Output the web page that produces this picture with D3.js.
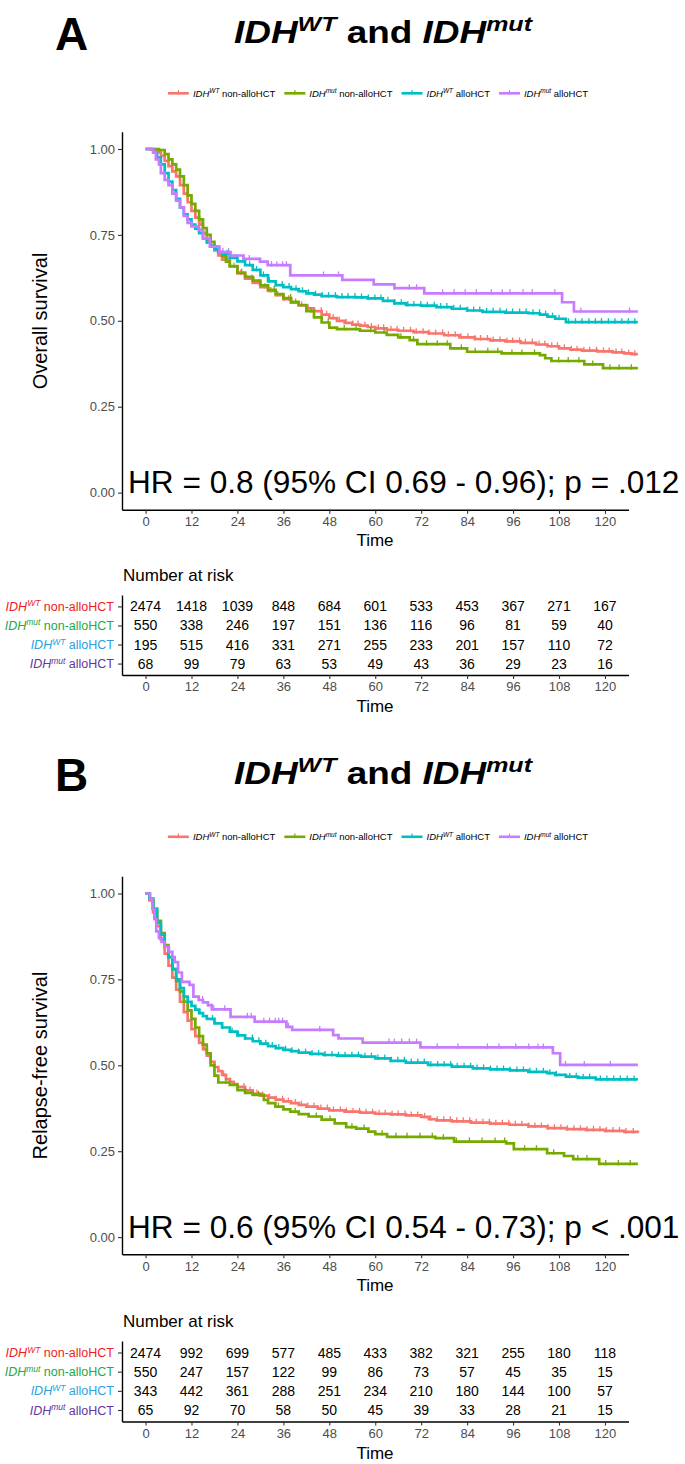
<!DOCTYPE html>
<html><head><meta charset="utf-8">
<script src="https://cdn.jsdelivr.net/npm/d3@7"></script>
<style>
body{margin:0;background:#fff}
svg{display:block;font-family:"Liberation Sans",Arial,Helvetica,sans-serif}
</style>
</head><body>
<svg id="chart" width="685" height="1464"></svg>
<script>
// ---------- DATA ----------
const groupSup = ["WT", "mut", "WT", "mut"];
const groupSuffix = [" non-alloHCT", " non-alloHCT", " alloHCT", " alloHCT"];
const curveColors = ["#F8766D", "#76AA00", "#00BFC4", "#C77CFF"];
const tableColors = ["#EE1C25", "#25A846", "#2AA2E0", "#6536A0"];
const timeTicks = [0, 12, 24, 36, 48, 60, 72, 84, 96, 108, 120];
const survTicks = [0, 0.25, 0.5, 0.75, 1];

// Panel A: overall survival, [month, survival]
const osWTnon = [[0,1],[1.5,0.998],[3,0.99],[4,0.98],[5,0.965],[6,0.95],[7,0.935],[8,0.92],[9,0.895],[10,0.87],[11,0.845],[12,0.82],[13,0.80],[14,0.78],[15,0.755],[16,0.735],[17,0.72],[18,0.705],[19,0.69],[20,0.678],[22,0.658],[24,0.638],[26,0.623],[28,0.61],[30,0.598],[32,0.587],[34,0.575],[36,0.563],[38,0.553],[40,0.545],[42,0.536],[44,0.528],[46,0.518],[48,0.508],[50,0.50],[52,0.494],[54,0.489],[56,0.486],[58,0.482],[60,0.478],[63,0.474],[66,0.471],[70,0.467],[74,0.463],[78,0.458],[82,0.452],[86,0.447],[90,0.443],[94,0.44],[98,0.436],[102,0.431],[105,0.426],[108,0.42],[111,0.416],[114,0.413],[118,0.411],[122,0.408],[125,0.405],[127,0.403],[128.6,0.403]];
const osMutNon = [[0,1],[3.5,0.997],[5,0.985],[6,0.97],[7,0.955],[8,0.94],[9,0.92],[10,0.895],[11,0.865],[12,0.84],[13,0.82],[14,0.795],[15,0.77],[16,0.75],[17,0.73],[18,0.715],[19,0.70],[20,0.688],[21,0.672],[22,0.659],[24,0.64],[26,0.628],[28,0.617],[30,0.603],[32,0.59],[34,0.578],[36,0.566],[38,0.555],[40,0.546],[42,0.528],[44,0.51],[46,0.495],[48,0.48],[50,0.476],[56,0.471],[60,0.466],[63,0.459],[66,0.452],[69,0.444],[71,0.432],[79.6,0.42],[84,0.41],[93,0.405],[103,0.40],[104.4,0.391],[106,0.383],[114.6,0.373],[119.5,0.362],[128.6,0.362]];
const osWTallo = [[0,1],[2,0.99],[3,0.975],[4,0.955],[5,0.93],[6,0.905],[7,0.88],[8,0.855],[9,0.83],[10,0.81],[11,0.795],[12,0.78],[13,0.768],[14,0.755],[15,0.74],[16,0.728],[17,0.718],[18,0.708],[19,0.70],[20,0.695],[22,0.683],[24,0.673],[26,0.662],[28,0.648],[30,0.632],[32,0.615],[34,0.604],[36,0.598],[38,0.592],[40,0.586],[42,0.58],[44,0.576],[46,0.572],[50,0.569],[55,0.568],[58,0.565],[62,0.558],[65,0.551],[68,0.546],[72,0.544],[76,0.54],[80,0.535],[84,0.53],[88,0.526],[94,0.524],[100,0.522],[103,0.518],[105,0.512],[107,0.506],[109.8,0.496],[128.6,0.496]];
const osMutAllo = [[0,1],[2,0.99],[2.7,0.97],[3.5,0.955],[4,0.93],[5,0.91],[6,0.895],[7,0.87],[8,0.85],[9,0.83],[10,0.805],[11,0.785],[12,0.775],[13.9,0.764],[15,0.74],[16.8,0.716],[19.3,0.70],[22.2,0.69],[25.6,0.68],[29.9,0.672],[31.9,0.662],[37.8,0.632],[51.4,0.619],[59.6,0.606],[65,0.595],[72.8,0.58],[108.8,0.554],[111.9,0.527],[128.6,0.527]];

const osCensWTnon = [14.5,17.2,19.8,21.5,23.1,24.9,26.4,27.8,29.6,31.2,32.7,34.5,36.1,37.4,39.2,40.8,42.5,44.1,45.9,47.3,49.0,50.6,52.4,54.1,55.5,57.3,59.0,60.8,62.2,64.1,65.7,67.4,69.2,70.7,72.5,74.0,75.8,77.6,79.1,80.9,82.4,84.2,86.0,87.5,89.3,90.8,92.6,94.4,95.9,97.7,99.2,101.0,102.8,104.3,106.1,107.6,109.4,111.2,112.7,114.5,116.0,117.8,119.6,121.1,122.9,124.4,126.2,127.8];
const osCensMutNon = [20.5,25.1,28.3,33.6,37.9,43.2,47.7,51.9,55.0,58.8,62.3,66.7,70.0,73.4,76.2,78.8,82.5,86.1,89.4,92.0,95.7,98.3,101.6,107.9,110.4,113.2,116.8,121.3,123.7,126.9];
const osCensWTallo = [16.0,18.9,21.3,23.8,25.5,27.2,29.0,30.8,32.3,34.0,35.7,37.5,39.3,41.0,42.6,44.4,46.1,47.8,49.6,51.3,52.9,54.7,56.4,58.2,59.9,61.5,63.3,65.0,66.8,68.5,70.1,71.9,73.6,75.4,77.1,78.7,80.5,82.2,84.0,85.7,87.3,89.1,90.8,92.6,94.3,95.9,97.7,99.4,101.2,102.9,104.5,106.3,108.0,110.5,112.3,114.0,115.8,117.5,119.1,120.9,122.6,124.4,126.1,127.8];
const osCensMutAllo = [20.2,21.7,27.1,30.0,32.9,34.3,35.8,36.8,46.5,50.4,65.0,68.9,70.8,77.6,80.6,83.5,86.4,90.3,93.2,95.2,98.6,101.0,106.9,113.7,126.4];

// Panel B: relapse-free survival
const rfsWTnon = [[0,1],[1,0.98],[2,0.945],[3,0.905],[4,0.865],[5,0.825],[6,0.79],[7,0.755],[8,0.72],[9,0.685],[10,0.655],[11,0.63],[12,0.605],[13,0.585],[14,0.565],[15,0.547],[16,0.528],[17,0.51],[18,0.495],[19,0.483],[20,0.472],[21,0.46],[22,0.452],[23,0.445],[24,0.437],[26,0.427],[28,0.418],[30,0.412],[32,0.406],[34,0.40],[36,0.395],[38,0.39],[40,0.385],[42,0.38],[45,0.374],[48,0.369],[52,0.365],[56,0.362],[60,0.359],[64,0.357],[68,0.354],[72,0.35],[74,0.343],[76,0.34],[80,0.337],[85,0.333],[90,0.33],[95,0.327],[100,0.322],[105,0.317],[110,0.314],[115,0.312],[120,0.309],[125,0.306],[128.6,0.304]];
const rfsMutNon = [[0,1],[1,0.985],[2,0.955],[3,0.92],[4,0.885],[5,0.85],[6,0.815],[7,0.78],[8,0.745],[9,0.715],[10,0.685],[11,0.66],[12,0.635],[13,0.61],[14,0.585],[15,0.56],[16,0.535],[17,0.50],[18,0.47],[19,0.45],[22,0.443],[24,0.428],[26,0.42],[28,0.414],[30.9,0.399],[32,0.39],[33.9,0.38],[36,0.372],[37.8,0.365],[40,0.358],[42.6,0.351],[46,0.342],[49.4,0.331],[52.4,0.32],[55,0.316],[58.2,0.307],[60,0.30],[63.1,0.292],[75.7,0.288],[80.6,0.278],[94.2,0.273],[96.2,0.256],[104.9,0.244],[109.3,0.236],[111.7,0.227],[118.5,0.213],[128.6,0.213]];
const rfsWTallo = [[0,1],[1,0.985],[2,0.955],[3,0.915],[4,0.88],[5,0.845],[6,0.815],[7,0.78],[8,0.75],[9,0.725],[10,0.70],[11,0.685],[12,0.673],[13,0.662],[14,0.652],[15,0.643],[16,0.635],[18,0.622],[20,0.61],[22,0.598],[24,0.587],[26,0.578],[28,0.57],[30,0.563],[32,0.556],[34,0.55],[36,0.545],[38,0.541],[40,0.537],[43,0.533],[46.5,0.53],[50,0.528],[56.3,0.525],[60,0.52],[64,0.513],[68,0.508],[73.8,0.501],[80,0.496],[85.5,0.491],[90,0.488],[95.2,0.485],[100,0.481],[104.9,0.477],[107,0.472],[109.8,0.467],[113,0.464],[117.6,0.459],[128.6,0.459]];
const rfsMutAllo = [[0,1],[1.2,0.985],[1.8,0.955],[2.3,0.925],[2.8,0.89],[3.5,0.87],[4.2,0.859],[5,0.845],[6.1,0.83],[7,0.815],[7.6,0.80],[8.5,0.77],[9.5,0.743],[11.5,0.734],[12.5,0.70],[13.9,0.69],[15,0.683],[16.3,0.675],[17.3,0.663],[22.2,0.641],[28.5,0.627],[36.8,0.612],[38.3,0.603],[49,0.588],[50.4,0.578],[56.7,0.566],[71.8,0.552],[106.4,0.535],[108.3,0.501],[128.6,0.501]];

const rfsCensWTnon = [15.3,18.1,20.4,22.2,24.0,25.7,27.3,29.1,30.6,32.4,34.0,35.8,37.3,39.1,40.7,42.4,44.0,45.8,47.5,49.1,50.9,52.5,54.2,55.9,57.6,59.3,61.0,62.6,64.4,66.0,67.8,69.4,71.1,72.9,74.5,76.2,77.9,79.6,81.3,83.0,84.7,86.4,88.1,89.8,91.5,93.2,94.9,96.6,98.3,100.0,101.7,103.4,105.1,106.8,108.5,110.2,111.9,113.6,115.3,117.0,118.7,120.4,122.1,123.8,125.5,127.4];
const rfsCensMutNon = [21.0,26.2,29.5,34.7,39.1,44.6,48.2,53.9,57.1,61.8,65.4,68.3,71.7,74.9,77.8,81.2,84.6,87.9,91.3,93.8,99.0,102.1,106.6,112.9,115.3,120.2,123.5,126.6];
const rfsCensWTallo = [14.2,17.5,20.1,22.6,24.3,26.1,27.9,29.6,31.4,33.1,34.8,36.6,38.2,40.0,41.8,43.5,45.2,46.9,48.7,50.4,52.1,53.9,55.6,57.3,59.0,60.7,62.5,64.2,65.9,67.6,69.4,71.1,72.8,74.5,76.3,78.0,79.7,81.4,83.2,84.9,86.6,88.3,90.1,91.8,93.5,95.2,97.0,98.7,100.4,102.1,103.9,105.6,107.3,110.8,112.5,114.3,116.0,118.8,120.5,122.3,124.0,125.8,127.6];
const rfsCensMutAllo = [14.9,16.3,17.8,20.7,26.6,27.6,30.9,32.4,33.9,34.8,35.8,37.3,45.5,63.6,65.0,66.9,68.9,70.8,76.2,81.6,89.3,92.3,96.7,100.1,102.5,103.9,109.7,114.6,121.4];

// Number at risk
const riskA_WTnon = [2474,1418,1039,848,684,601,533,453,367,271,167];
const riskA_mutNon = [550,338,246,197,151,136,116,96,81,59,40];
const riskA_WTallo = [195,515,416,331,271,255,233,201,157,110,72];
const riskA_mutAllo = [68,99,79,63,53,49,43,36,29,23,16];
const riskB_WTnon = [2474,992,699,577,485,433,382,321,255,180,118];
const riskB_mutNon = [550,247,157,122,99,86,73,57,45,35,15];
const riskB_WTallo = [343,442,361,288,251,234,210,180,144,100,57];
const riskB_mutAllo = [65,92,70,58,50,45,39,33,28,21,15];

const panels = [
  {letter:"A", ylab:"Overall survival", hr:"HR = 0.8 (95% CI 0.69 - 0.96); p = .012",
   curves:[osWTnon, osMutNon, osWTallo, osMutAllo],
   cens:[osCensWTnon, osCensMutNon, osCensWTallo, osCensMutAllo],
   risk:[riskA_WTnon, riskA_mutNon, riskA_WTallo, riskA_mutAllo],
   offT:0, offL:0, offP:0, offR:0, tableRange:[595,675]},
  {letter:"B", ylab:"Relapse-free survival", hr:"HR = 0.6 (95% CI 0.54 - 0.73); p < .001",
   curves:[rfsWTnon, rfsMutNon, rfsWTallo, rfsMutAllo],
   cens:[rfsCensWTnon, rfsCensMutNon, rfsCensWTallo, rfsCensMutAllo],
   risk:[riskB_WTnon, riskB_mutNon, riskB_WTallo, riskB_mutAllo],
   offT:741, offL:743.5, offP:744.5, offR:746, tableRange:[1341,1421.5]}
];

// ---------- DRAW ----------
const svg = d3.select("#chart");
svg.append("rect").attr("width",685).attr("height",1464).attr("fill","#fff");

const x = d3.scaleLinear().domain([-6.15, 126.15]).range([122, 628.5]);
const tickGrey = "#4D4D4D";

function styleAxis(g){
  g.select(".domain").attr("stroke","#000").attr("stroke-width",1.4);
  g.selectAll(".tick line").attr("stroke","#333").attr("stroke-width",1.1);
  g.selectAll(".tick text").attr("fill",tickGrey).attr("font-size",13)
   .attr("font-family","'Liberation Sans',Arial,sans-serif");
}

function stepAt(pts, t){
  let v = pts[0][1];
  for (const p of pts){ if (p[0] <= t) v = p[1]; else break; }
  return v;
}

function groupLabel(textSel, i, main, sup, dy){
  textSel.append("tspan").attr("font-style","italic").text("IDH");
  textSel.append("tspan").attr("font-style","italic").attr("font-size",sup).attr("dy",-dy).text(groupSup[i]);
  textSel.append("tspan").attr("dy",dy).text(groupSuffix[i]);
}

panels.forEach(p => {
  const g = svg.append("g");

  // Letter
  g.append("text").attr("x",55).attr("y",50+p.offT).attr("font-size",46)
   .attr("font-weight","bold").attr("fill","#000").text(p.letter);

  // Title
  const tg = g.append("g");
  const tt = tg.append("text").attr("x",0).attr("y",0).attr("font-size",31)
    .attr("font-weight","bold").attr("fill","#000");
  tt.append("tspan").attr("font-style","italic").text("IDH");
  tt.append("tspan").attr("font-style","italic").attr("font-size",21).attr("dy",-12).text("WT");
  tt.append("tspan").attr("dy",12).text(" and ");
  tt.append("tspan").attr("font-style","italic").text("IDH");
  tt.append("tspan").attr("font-style","italic").attr("font-size",21).attr("dy",-12).text("mut");
  const tw = tt.node().getComputedTextLength();
  const k = 298 / tw;
  tg.attr("transform",`translate(${383 - 149},${43+p.offT}) scale(${k},1)`);

  // Legend
  const lg = g.append("g");
  let cx = 0;
  groupSup.forEach((s,i) => {
    const it = lg.append("g").attr("transform",`translate(${cx},0)`);
    it.append("line").attr("x1",0).attr("x2",21).attr("y1",0).attr("y2",0)
      .attr("stroke",curveColors[i]).attr("stroke-width",2.6);
    it.append("line").attr("x1",10.5).attr("x2",10.5).attr("y1",-3.2).attr("y2",1)
      .attr("stroke",curveColors[i]).attr("stroke-width",1.2);
    const t = it.append("text").attr("x",25).attr("y",3.4).attr("font-size",9.5).attr("fill","#000");
    groupLabel(t, i, 9.5, 6.5, 3.5);
    cx += 25 + t.node().getComputedTextLength() + 9;
  });
  const lw = cx - 9;
  lg.attr("transform",`translate(${378 - lw/2},${93.3+p.offL})`);

  // Survival plot
  const y = d3.scaleLinear().domain([-0.05, 1.05]).range([509.8+p.offP, 131.8+p.offP]);
  const line = d3.line().curve(d3.curveStepAfter).x(d => x(d[0])).y(d => y(d[1]));

  p.curves.forEach((c,i) => {
    g.append("path").datum(c).attr("d",line).attr("fill","none")
      .attr("stroke",curveColors[i]).attr("stroke-width",2.7);
    g.append("g").selectAll("line").data(p.cens[i]).join("line")
      .attr("x1",t => x(t)).attr("x2",t => x(t))
      .attr("y1",t => y(stepAt(c,t)) - 4).attr("y2",t => y(stepAt(c,t)) + 1.5)
      .attr("stroke",curveColors[i]).attr("stroke-width",1.3);
  });

  const ya = g.append("g").attr("transform","translate(122,0)")
    .call(d3.axisLeft(y).tickValues(survTicks).tickFormat(d3.format(".2f")).tickSize(4).tickSizeOuter(0).tickPadding(3));
  styleAxis(ya);
  const xa = g.append("g").attr("transform",`translate(0,${509.8+p.offP})`)
    .call(d3.axisBottom(x).tickValues(timeTicks).tickFormat(d3.format("d")).tickSize(4).tickSizeOuter(0).tickPadding(3));
  styleAxis(xa);

  g.append("text").attr("x",375).attr("y",546+p.offP).attr("text-anchor","middle")
    .attr("font-size",17).attr("fill","#000").text("Time");
  g.append("text").attr("transform",`translate(47,${321+p.offP}) rotate(-90)`)
    .attr("text-anchor","middle").attr("font-size",20).attr("fill","#000").text(p.ylab);

  // HR annotation
  g.append("text").attr("x",128).attr("y",493.3+p.offP).attr("font-size",31.6)
    .attr("fill","#000").text(p.hr);

  // Risk table
  g.append("text").attr("x",123).attr("y",580.7+p.offR).attr("font-size",17)
    .attr("fill","#000").text("Number at risk");
  const yt = d3.scalePoint().domain([0,1,2,3]).range(p.tableRange).padding(0.6);
  const ta = g.append("g").attr("transform","translate(122,0)")
    .call(d3.axisLeft(yt).tickSize(4).tickSizeOuter(0).tickFormat(() => ""));
  styleAxis(ta);
  [0,1,2,3].forEach(i => {
    const t = g.append("text").attr("x",114).attr("y",yt(i)+4.5).attr("text-anchor","end")
      .attr("font-size",12.5).attr("fill",tableColors[i]);
    groupLabel(t, i, 12.5, 8.5, 4.5);
    g.append("g").selectAll("text").data(p.risk[i]).join("text")
      .attr("x",(d,j) => x(timeTicks[j])).attr("y",yt(i)+5)
      .attr("text-anchor","middle").attr("font-size",14).attr("fill","#000")
      .text(d => d);
  });
  const tb = g.append("g").attr("transform",`translate(0,${p.tableRange[1]})`)
    .call(d3.axisBottom(x).tickValues(timeTicks).tickFormat(d3.format("d")).tickSize(4).tickSizeOuter(0).tickPadding(3));
  styleAxis(tb);
  g.append("text").attr("x",375).attr("y",p.tableRange[1]+37).attr("text-anchor","middle")
    .attr("font-size",17).attr("fill","#000").text("Time");
});
</script>
</body></html>
